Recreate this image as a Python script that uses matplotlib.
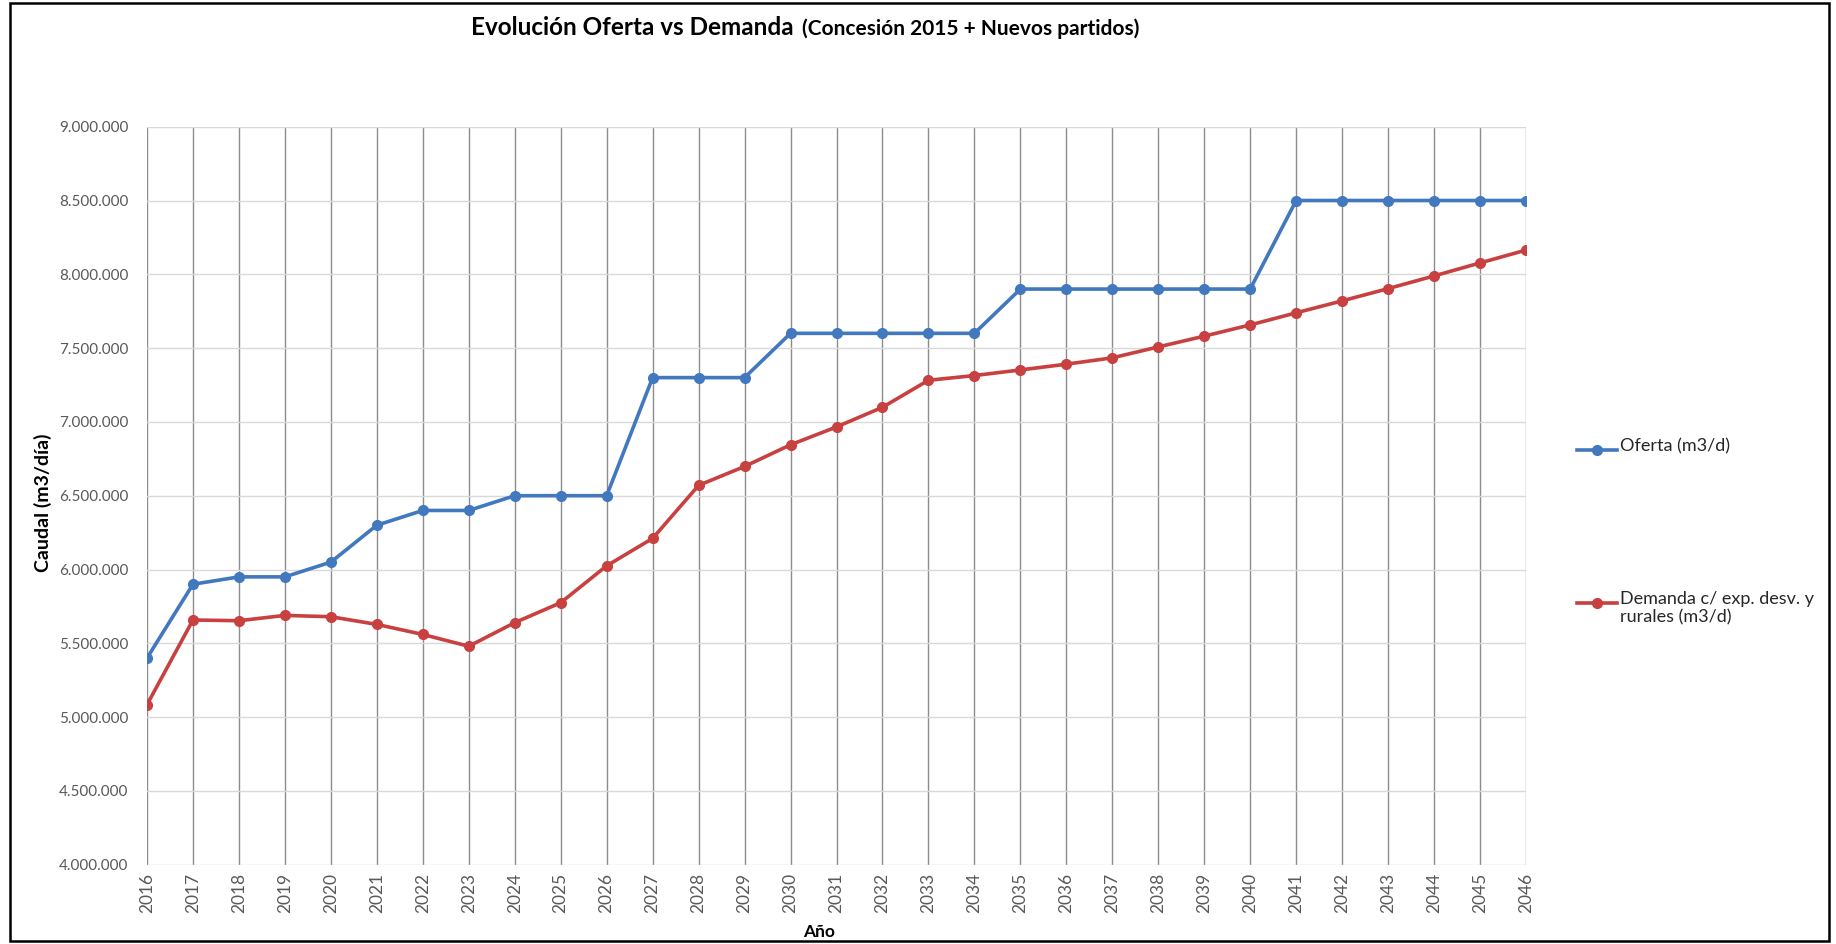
import matplotlib
matplotlib.use('Agg')
import matplotlib.pyplot as plt
from matplotlib.ticker import FuncFormatter, MultipleLocator
from matplotlib.lines import Line2D
from matplotlib.patches import Rectangle

# datos
years = list(range(2016, 2047))
oferta = [5400000, 5900000, 5950000, 5950000, 6050000, 6300000, 6400000, 6400000,
          6500000, 6500000, 6500000, 7300000, 7300000, 7300000, 7600000, 7600000,
          7600000, 7600000, 7600000, 7900000, 7900000, 7900000, 7900000, 7900000,
          7900000, 8500000, 8500000, 8500000, 8500000, 8500000, 8500000]
demanda = [5084000, 5658000, 5653000, 5689000, 5680000, 5628000, 5560000, 5480000,
           5640000, 5775000, 6025000, 6211000, 6570000, 6698000, 6845000, 6966000,
           7099000, 7282000, 7314000, 7352000, 7391000, 7434000, 7508000, 7581000,
           7657000, 7739000, 7820000, 7903000, 7989000, 8077000, 8164000]

label_oferta = 'Oferta (m3/d)'
label_demanda = 'Demanda c/ exp. desv. y\nrurales (m3/d)'

blue = '#4178be'
red = '#c8403f'

plt.rcParams['font.family'] = ['Lato', 'DejaVu Sans']

W, H = 1836, 944
fig = plt.figure(figsize=(W/100, H/100), dpi=100)
ax = fig.add_axes([147/W, 1-864.7/H, (1526-147)/W, (864.7-126.7)/H])

ax.plot(years, oferta, color=blue, lw=2.6, marker='o', ms=7, zorder=3)
ax.plot(years, demanda, color=red, lw=2.6, marker='o', ms=7, zorder=3)

ax.set_xlim(2016, 2046)
ax.set_ylim(4000000, 9000000)
ax.xaxis.set_major_locator(MultipleLocator(1))
ax.yaxis.set_major_locator(MultipleLocator(500000))
ax.yaxis.set_major_formatter(FuncFormatter(lambda v, p: f'{v:,.0f}'.replace(',', '.')))

for s in ax.spines.values():
    s.set_visible(False)
ax.set_axisbelow(True)
ax.grid(axis='x', color='#8c8c8c', lw=1.0)
ax.grid(axis='y', color='#d9d9d9', lw=1.0)
ax.tick_params(axis='both', length=0, colors='#595959')
ax.tick_params(axis='y', labelsize=11, pad=13.5)
ax.tick_params(axis='x', labelsize=12.5, pad=6, labelrotation=90)

ax.set_ylabel('Caudal (m3/día)', fontsize=14, fontweight='bold', color='black', va='center')
ax.yaxis.set_label_coords((42.5-147)/1379, 0.49)
ax.set_xlabel('Año', fontsize=12.5, fontweight='bold', color='black', va='center')
ax.xaxis.set_label_coords(0.487, -(932-864.7)/738)

# titulo en dos partes
r = fig.canvas.get_renderer()
ty = 1 - 35/H
t1 = fig.text(471/W, ty, 'Evolución Oferta vs Demanda', fontsize=17.5,
              fontweight='bold', va='baseline', ha='left')
bb = t1.get_window_extent(r)
fig.text((bb.x1 + 8)/W, ty, '(Concesión 2015 + Nuevos partidos)', fontsize=15,
         fontweight='bold', va='baseline', ha='left')

# leyenda a la derecha
for yy, col, lab in [(450, blue, label_oferta), (603, red, label_demanda)]:
    fy = 1 - yy/H
    fig.add_artist(Line2D([1577/W, 1617/W], [fy, fy], color=col, lw=2.6))
    fig.add_artist(Line2D([1597/W], [fy], color=col, marker='o', ms=7))
    fig.text(1620/W, fy + 12/H, lab, fontsize=13, va='top', ha='left',
             color='#262626', linespacing=1.2)

# marco exterior
fig.add_artist(Rectangle((10/W, 3/H), 1819/W, 938/H, transform=fig.transFigure,
                         fill=False, ec='black', lw=1.8))

fig.savefig('out.png', dpi=100)
